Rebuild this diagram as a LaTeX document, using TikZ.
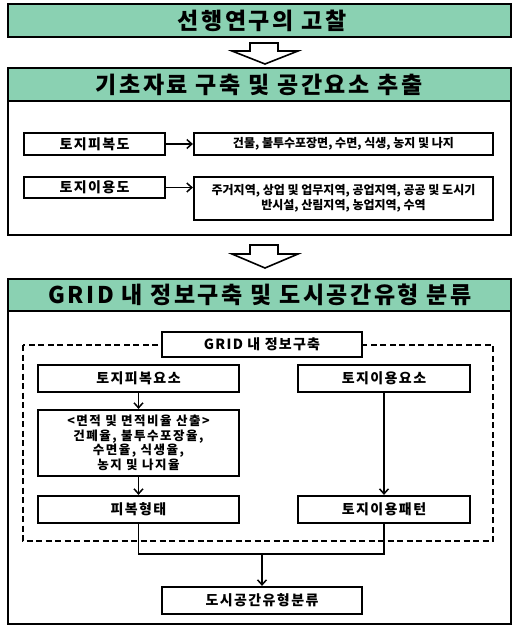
\documentclass[tikz,border=0pt]{standalone}
\usepackage{fontspec}
\setmainfont{Noto Sans CJK KR}
\newfontfamily\hfont[LetterSpace=11]{Noto Sans CJK KR}
\newfontfamily\lfont[LetterSpace=10]{Noto Sans CJK KR}
\newfontfamily\afont[LetterSpace=12]{Noto Sans CJK KR}
\newfontfamily\gfont[LetterSpace=9]{Noto Sans CJK KR}
\usetikzlibrary{arrows.meta}
\definecolor{hdrgreen}{RGB}{138,209,178}
\tikzset{
  hdr/.style={fill=hdrgreen,draw=black,line width=2pt},
  outer/.style={draw=black,line width=2pt},
  hdrtext/.style={font=\hfont\bfseries\fontsize{23}{26}\selectfont,inner sep=0pt},
  lbox/.style={draw=black,line width=2.2pt,fill=white,inner sep=0pt,font=\lfont\bfseries\fontsize{14}{16}\selectfont},
  dbox/.style={draw=black,line width=2.2pt,fill=white,inner sep=0pt,align=center,font=\bfseries\fontsize{12}{15}\selectfont},
  conn/.style={line width=1.5pt,-{Straight Barb[length=5pt,width=9pt,line width=1.5pt]}},
  plain/.style={line width=1.5pt},
  hollow/.style={draw=black,line width=1.6pt,fill=white,line join=miter}
}
\begin{document}
\begin{tikzpicture}[x=1pt,y=-1pt]
\useasboundingbox (0,0) rectangle (512,626);
% header 1
\draw[hdr] (8,4) rectangle (511,37);
\node[hdrtext] (t1) at (262,20.5) {선행연구의 고찰};
% hollow arrow 1
\draw[hollow] (250,43) -- (278,43) -- (278,51) -- (298,51) -- (265,64) -- (232,51) -- (250,51) -- cycle;
% section 2
\draw[outer] (8,68) rectangle (511,235);
\draw[hdr] (8,68) rectangle (511,101);
\node[hdrtext] (t2) at (259,85) {기초자료 구축 및 공간요소 추출};
\node[lbox,minimum width=141pt,minimum height=22pt] (a) at (94.5,144) {토지피복도};
\node[dbox,minimum width=299pt,minimum height=22pt] (b) at (343.5,144) {건물, 불투수포장면, 수면, 식생, 농지 및 나지};
\node[lbox,minimum width=141pt,minimum height=21pt] (c) at (94.5,187.5) {토지이용도};
\node[dbox,minimum width=299pt,minimum height=43pt] (d) at (343.5,198.5) {주거지역, 상업 및 업무지역, 공업지역, 공공 및 도시기\\반시설, 산림지역, 농업지역, 수역};
\draw[conn] (a.east) -- (b.west);
\draw[conn] (c.east) -- (c.east -| d.west);
% hollow arrow 2
\draw[hollow] (250,245) -- (278,245) -- (278,254) -- (298,254) -- (265,268) -- (232,254) -- (250,254) -- cycle;
% section 3
\draw[outer] (8,279) rectangle (511,624);
\draw[hdr] (8,279) rectangle (511,311);
\node[hdrtext] (t3) at (260,295) {GRID 내 정보구축 및 도시공간유형 분류};
\draw[line width=2pt,dash pattern=on 6pt off 3.5pt] (23,345) rectangle (493,541);
\node[draw=black,line width=2.2pt,fill=white,inner sep=0pt,minimum width=200pt,minimum height=25pt,font=\gfont\bfseries\fontsize{14}{16}\selectfont] (g) at (262,344.5) {GRID 내 정보구축};
\node[lbox,minimum width=201pt,minimum height=27pt] (p1) at (138.5,378.5) {토지피복요소};
\node[lbox,minimum width=172pt,minimum height=27pt] (p2) at (384,378.5) {토지이용요소};
\node[dbox,minimum width=201pt,minimum height=66pt,font=\afont\bfseries\fontsize{12.5}{14.5}\selectfont] (ar) at (138.5,443) {<면적 및 면적비율 산출>\\건폐율, 불투수포장율,\\수면율, 식생율,\\농지 및 나지율};
\node[lbox,minimum width=201pt,minimum height=27pt] (f1) at (138.5,509.5) {피복형태};
\node[lbox,minimum width=172pt,minimum height=27pt] (f2) at (384,509.5) {토지이용패턴};
\node[lbox,minimum width=200pt,minimum height=27pt] (fin) at (262,600.5) {도시공간유형분류};
\coordinate (j) at (262,554);
\draw[conn] (p1.south) -- (ar.north);
\draw[conn] (ar.south) -- (f1.north);
\draw[conn] (p2.south) -- (f2.north);
\draw[plain] (f1.south) |- (j) -| (f2.south);
\draw[conn] (j) -- (fin.north);
\end{tikzpicture}
\end{document}
